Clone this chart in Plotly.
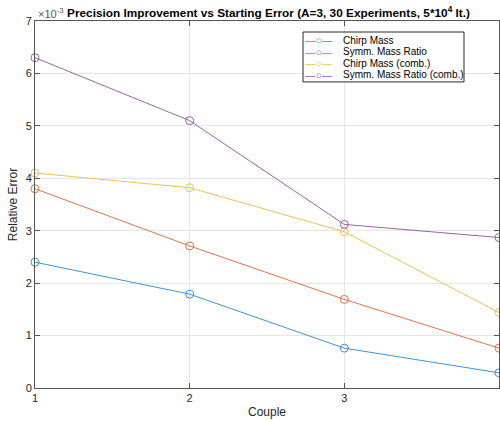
import plotly.graph_objects as go

couples = [1, 2, 3, 4]
chirp_mass = [2.40, 1.79, 0.76, 0.29]
symm_mass_ratio = [3.80, 2.71, 1.69, 0.76]
chirp_mass_comb = [4.10, 3.82, 2.98, 1.44]
symm_mass_ratio_comb = [6.30, 5.10, 3.12, 2.87]

names = ["Chirp Mass", "Symm. Mass Ratio", "Chirp Mass (comb.)", "Symm. Mass Ratio (comb.)"]
series = [chirp_mass, symm_mass_ratio, chirp_mass_comb, symm_mass_ratio_comb]
colors = ["#3f93cc", "#e07448", "#ecc255", "#9a62a8"]

fig = go.Figure()
for name, vals, c in zip(names, series, colors):
    fig.add_trace(go.Scatter(
        x=couples, y=[v * 1e-3 for v in vals], name=name, mode="lines+markers",
        line=dict(color=c, width=1),
        marker=dict(symbol="circle-open", size=8, color=c, line=dict(width=1)),
        cliponaxis=False, showlegend=False,
    ))

# compact MATLAB-style legend box (paper coordinates)
leg_x0, leg_x1, leg_y0, leg_y1 = 0.5776, 0.9246, 0.834, 0.970
row_y = [0.948, 0.916, 0.885, 0.853]
annotations = [
    dict(text="×10<sup>-3</sup>", xref="paper", yref="paper", x=0.0345, y=1.022,
         xanchor="center", yanchor="middle", showarrow=False,
         font=dict(size=11, color="#555555")),
]
for n, c, ry in zip(names, colors, row_y):
    annotations.append(dict(text="—○—", xref="paper", yref="paper", x=0.613, y=ry,
                            xanchor="center", yanchor="middle", showarrow=False,
                            font=dict(size=10.5, color=c)))
    annotations.append(dict(text=n, xref="paper", yref="paper", x=0.66, y=ry,
                            xanchor="left", yanchor="middle", showarrow=False,
                            font=dict(size=10, color="#000000")))

font = "Liberation Sans, Arial, Helvetica, sans-serif"
fig.update_layout(
    width=500, height=421,
    margin=dict(l=35, r=1, t=21, b=33),
    paper_bgcolor="white", plot_bgcolor="white",
    font=dict(family=font, size=11, color="#262626"),
    title=dict(text="<b>Precision Improvement vs Starting Error (A=3, 30 Experiments, 5*10<sup>4</sup> It.)</b>",
               x=0.537, xanchor="center", y=0.969, yanchor="middle",
               font=dict(size=11.8, color="#000000")),
    xaxis=dict(range=[1, 4], tickvals=[1, 2, 3, 4], ticktext=["1", "2", "3", "4"],
               showgrid=True, gridcolor="#e6e6e6", gridwidth=1,
               showline=True, linecolor="#555555", linewidth=1, mirror="ticks",
               ticks="inside", ticklen=5, tickcolor="#555555", automargin=False,
               zeroline=False, tickfont=dict(size=11, color="#262626"),
               title=dict(text="Couple", font=dict(size=12, color="#262626"), standoff=4)),
    yaxis=dict(range=[0, 0.007], tickvals=[i * 1e-3 for i in range(8)],
               ticktext=[str(i) for i in range(8)],
               showgrid=True, gridcolor="#e6e6e6", gridwidth=1,
               showline=True, linecolor="#555555", linewidth=1, mirror="ticks",
               ticks="inside", ticklen=5, tickcolor="#555555", automargin=False,
               zeroline=False, tickfont=dict(size=11, color="#262626"),
               title=dict(text="Relative Error", font=dict(size=12, color="#262626"), standoff=5)),
    shapes=[dict(type="rect", xref="paper", yref="paper", x0=leg_x0, x1=leg_x1,
                 y0=leg_y0, y1=leg_y1, line=dict(color="#262626", width=1),
                 fillcolor="white", layer="above")],
    annotations=annotations,
)

fig.write_html(
    "out.html",
    config={"displayModeBar": False},
    post_script="document.body.style.margin='0';document.documentElement.style.overflow='hidden';",
)
